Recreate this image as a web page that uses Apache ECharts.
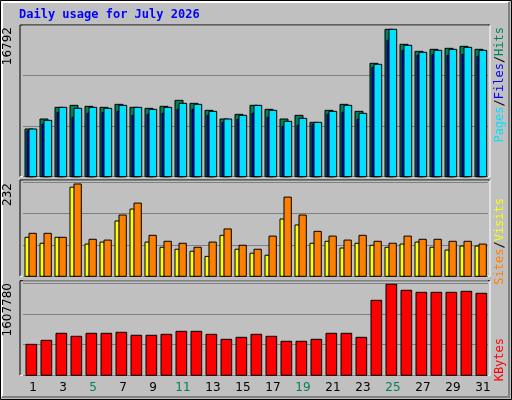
<!DOCTYPE html>
<html><head><meta charset="utf-8">
<script src="https://cdn.jsdelivr.net/npm/echarts@6/dist/echarts.min.js"></script>
<style>html,body{margin:0;padding:0;background:#c0c0c0}#c{width:512px;height:400px}</style>
</head><body><div id="c"></div>
<script>
const days = ['1','2','3','4','5','6','7','8','9','10','11','12','13','14','15','16','17','18','19','20','21','22','23','24','25','26','27','28','29','30','31'];
const weekend = ['4','5','11','12','18','19','25','26'];
const hits = [5433,6572,7902,8130,8016,7902,8244,7902,7788,8016,8700,8358,7560,6572,7104,8130,7674,6572,6990,6192,7560,8244,7446,12917,16792,15082,14284,14512,14626,14854,14512];
const files = [5433,6420,7902,7788,7902,7788,8130,7902,7674,7902,8358,8244,7446,6572,6990,8130,7560,6306,6648,6192,7446,8130,7218,12803,16792,14968,14170,14398,14512,14740,14398];
const pages = [5205,6002,7332,6762,7218,7332,7446,6990,7104,7218,7674,7674,6990,6192,6534,7218,6762,5736,5850,5964,7104,7332,6534,12461,15538,14398,13828,13942,13828,13942,13714];
const sites = [98,83,98,224,81,86,139,169,86,73,68,63,50,103,68,58,53,144,129,83,88,71,83,78,73,81,86,73,66,76,76];
const visits = [108,108,98,232,93,91,154,184,103,88,83,73,86,119,78,68,101,199,154,113,101,91,103,88,83,101,93,93,88,88,81];
const kbytes = [547000,618000,742000,689000,742000,742000,760000,707000,707000,724000,777000,777000,724000,636000,671000,724000,689000,601000,601000,636000,742000,742000,671000,1325000,1607780,1502000,1466000,1466000,1466000,1484000,1449000];
const maxLabels = ['16792','232','1607780'];

function barSeries(data, gi, color, x0, x1) {
  return {type:'custom', xAxisIndex:gi, yAxisIndex:gi, data:data.map((v,i)=>[i,v]),
    renderItem:(p,api)=>{
      const top = api.coord([api.value(0), api.value(1)]);
      const bot = api.coord([api.value(0), 0]);
      return {type:'rect', shape:{x:top[0]+x0, y:top[1], width:x1-x0, height:bot[1]-top[1]},
        style:{fill:color, stroke:'#000', lineWidth:1}};
    }};
}
const L = 23, W = 465;
const grids = [
  {left:L, width:W, top:25, height:151.7},
  {left:L, width:W, top:180, height:96.3},
  {left:L, width:W, top:280.7, height:94.6}
];
const yMax = [17282, 242, 1671400], yInt = [5761, 79, 540000];
const chart = echarts.init(document.getElementById('c'));
const frame = (y0, y1) => [
  {type:'rect', shape:{x:20, y:y0, width:470, height:y1-y0}, style:{fill:'#c0c0c0', stroke:null}, z:-10},
  {type:'polyline', shape:{points:[[20,y1],[20,y0],[490,y0]]}, style:{stroke:'#000', lineWidth:1, fill:null}, z:-9},
  {type:'polyline', shape:{points:[[20,y1],[490,y1],[490,y0]]}, style:{stroke:'#fff', lineWidth:1, fill:null}, z:-9}
];
const rot = (x, y, rich, text) => ({type:'text', x:x, y:y, rotation:Math.PI/2, style:{text:text, rich:rich, font:'12px "DejaVu Sans Mono"', align:'right', verticalAlign:'middle'}});
chart.setOption({
  animation:false,
  backgroundColor:'#c0c0c0',
  grid: grids,
  xAxis: grids.map((g,i)=>({type:'category', gridIndex:i, data:days,
    axisLine:{show:false}, axisTick:{show:false},
    axisLabel:{show:i===2, margin:7, padding:[0,0,0,5], fontFamily:'DejaVu Sans', fontSize:12,
      color:(v)=>weekend.includes(v)?'#00805c':'#000'}})),
  yAxis: grids.map((g,i)=>({type:'value', gridIndex:i, min:0, max:yMax[i], interval:yInt[i],
    axisLabel:{show:false}, axisLine:{show:false}, axisTick:{show:false},
    splitLine:{lineStyle:{color:'#808080', width:1}}})),
  series: [
    barSeries(hits,0,'#00805c',-5.5,2.5),
    barSeries(pages,0,'#0000ff',-3.5,4.5),
    barSeries(files,0,'#00e0ff',-1.5,6.2),
    barSeries(sites,1,'#ffff00',-5.5,-1.2),
    barSeries(visits,1,'#ff8000',-1.5,5.8),
    barSeries(kbytes,2,'#ff0000',-4.5,6.2)
  ],
  graphic: [
    {type:'rect', shape:{x:0.5,y:0.5,width:511,height:399}, style:{fill:null, stroke:'#000', lineWidth:1}, z:-20},
    {type:'polyline', shape:{points:[[2,397],[2,2],[509,2]]}, style:{stroke:'#fff', lineWidth:2, fill:null}},
    {type:'polyline', shape:{points:[[2,397],[509,397],[509,2]]}, style:{stroke:'#808080', lineWidth:2, fill:null}},
    ...frame(25,176.7), ...frame(180,276.3), ...frame(280.7,375.3),
    {type:'text', x:19, y:9, style:{text:'Daily usage for July 2026', font:'bold 12px "DejaVu Sans Mono"', fill:'#0000ff'}},
    {type:'text', x:8, y:27, rotation:Math.PI/2, style:{text:maxLabels[0], font:'12px "DejaVu Sans"', fill:'#000', align:'right', verticalAlign:'middle'}},
    {type:'text', x:8, y:183, rotation:Math.PI/2, style:{text:maxLabels[1], font:'12px "DejaVu Sans"', fill:'#000', align:'right', verticalAlign:'middle'}},
    {type:'text', x:8, y:283, rotation:Math.PI/2, style:{text:maxLabels[2], font:'12px "DejaVu Sans"', fill:'#000', align:'right', verticalAlign:'middle'}},
    {type:'text', x:500, y:27, rotation:Math.PI/2, style:{text:'{p|Pages}{s|/}{f|Files}{s|/}{h|Hits}', align:'right', verticalAlign:'middle', font:'12px "DejaVu Sans Mono"',
      rich:{p:{fill:'#00e0ff',font:'12px "DejaVu Sans Mono"'},s:{fill:'#000',font:'12px "DejaVu Sans Mono"'},f:{fill:'#0000ff',font:'12px "DejaVu Sans Mono"'},h:{fill:'#00805c',font:'12px "DejaVu Sans Mono"'}}}},
    {type:'text', x:500, y:198, rotation:Math.PI/2, style:{text:'{a|Sites}{s|/}{b|Visits}', align:'right', verticalAlign:'middle', font:'12px "DejaVu Sans Mono"',
      rich:{a:{fill:'#ff8000',font:'12px "DejaVu Sans Mono"'},s:{fill:'#000',font:'12px "DejaVu Sans Mono"'},b:{fill:'#ffff00',font:'12px "DejaVu Sans Mono"'}}}},
    {type:'text', x:500, y:338, rotation:Math.PI/2, style:{text:'KBytes', align:'right', verticalAlign:'middle', font:'12px "DejaVu Sans Mono"', fill:'#ff0000'}}
  ]
});
</script></body></html>
